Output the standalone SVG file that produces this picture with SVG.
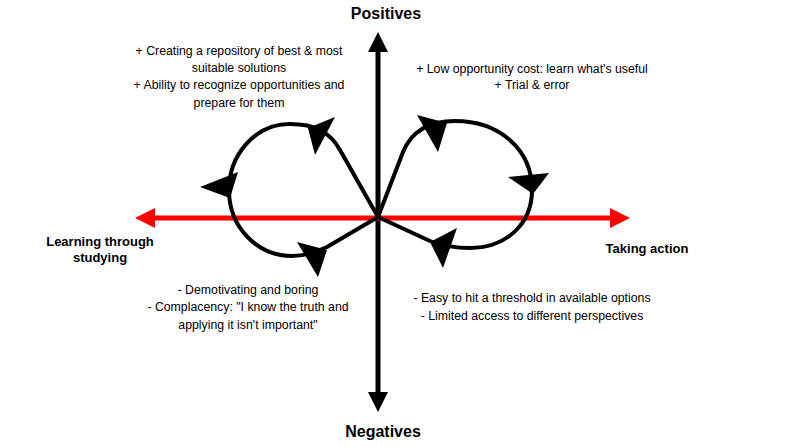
<svg xmlns="http://www.w3.org/2000/svg" width="800" height="447" viewBox="0 0 800 447">
<style>
.t{font-family:"Liberation Sans",Arial,sans-serif;font-size:12.3px;fill:#000;text-anchor:middle}
.b{font-family:"Liberation Sans",Arial,sans-serif;font-weight:bold;fill:#000;text-anchor:middle}
.loop{fill:none;stroke:#000;stroke-width:4;stroke-linejoin:round}
.ah{fill:#000}
</style>
<rect width="800" height="447" fill="#fff"/>
<g id="axes">
<line x1="378" y1="48" x2="378" y2="396" stroke="#000" stroke-width="5"/>
<polygon points="378,32 368,52 388,52" fill="#000"/>
<polygon points="378,412 368,392 388,392" fill="#000"/>
<line x1="150" y1="218" x2="615" y2="218" stroke="#f00" stroke-width="5"/>
<polygon points="135,218 155,208 155,228" fill="#f00"/>
<polygon points="630,218 610,208 610,228" fill="#f00"/>
</g>
<g id="connectors">
<path class="loop" d="M378,217 L340,150 C330,132 315,124 290,124 C255,124 229,155 229,190 C229,228 258,256 292,256 C305,256 315,252 327,247 Z"/>
<path class="loop" d="M378,217 L403,152 C410,135 425,121 455,121 C500,121 532,150 532,190 C532,225 505,248 470,248 C455,248 440,245 430,241 Z"/>
<polygon class="ah" points="335,117 308,128 315,155"/>
<polygon class="ah" points="200,187 238,172 230,198"/>
<polygon class="ah" points="297,242 327,250 318,277"/>
<polygon class="ah" points="417,115 447,123 438,152"/>
<polygon class="ah" points="508,177 549,173 533,194"/>
<polygon class="ah" points="430,242 457,228 443,268"/>
</g>
<g id="positives"><text class="b" x="386" y="18.5" font-size="16">Positives</text></g>
<g id="negatives"><text class="b" x="383" y="437" font-size="16">Negatives</text></g>
<g id="learning"><text class="b" x="100" y="246" font-size="13">Learning through</text><text class="b" x="100" y="262" font-size="13">studying</text></g>
<g id="taking"><text class="b" x="647" y="253" font-size="13">Taking action</text></g>
<g id="q1">
<text class="t" x="239" y="54.5">+ Creating a repository of best &amp; most</text>
<text class="t" x="239" y="71.5">suitable solutions</text>
<text class="t" x="239" y="89">+ Ability to recognize opportunities and</text>
<text class="t" x="239" y="106.5">prepare for them</text>
</g>
<g id="q2">
<text class="t" x="532" y="73">+ Low opportunity cost: learn what's useful</text>
<text class="t" x="532" y="89">+ Trial &amp; error</text>
</g>
<g id="q3">
<text class="t" x="248" y="294">- Demotivating and boring</text>
<text class="t" x="248" y="311">- Complacency: "I know the truth and</text>
<text class="t" x="248" y="328.5">applying it isn't important"</text>
</g>
<g id="q4">
<text class="t" x="532" y="302">- Easy to hit a threshold in available options</text>
<text class="t" x="532" y="320">- Limited access to different perspectives</text>
</g>
</svg>
